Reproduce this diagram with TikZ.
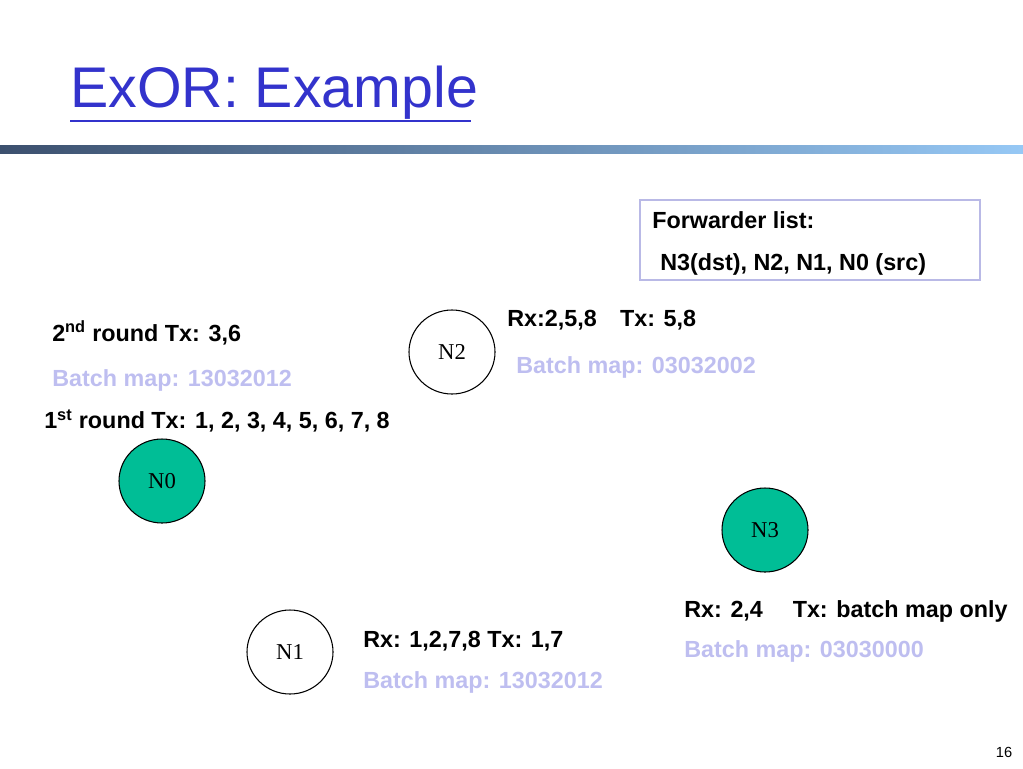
\documentclass[tikz,border=0pt]{standalone}
\usepackage{fontspec}
\setmainfont{Liberation Serif}
\setsansfont{Liberation Sans}
\definecolor{titleblue}{RGB}{51,51,204}
\definecolor{mapblue}{RGB}{190,190,240}
\definecolor{nodegreen}{RGB}{0,190,150}
\definecolor{boxline}{RGB}{185,185,230}
\definecolor{bardark}{RGB}{60,80,110}
\definecolor{barlight}{RGB}{150,200,245}

\tikzset{
  node circ/.style={draw,ellipse,thick,minimum width=86pt*0.75,minimum height=84pt*0.75,inner sep=0pt,font=\fontsize{17}{20}\selectfont},
  info/.style={anchor=west,inner sep=0pt,font=\sffamily\bfseries\fontsize{17.5}{20}\selectfont},
  map/.style={info,text=mapblue}
}
\usetikzlibrary{shapes.geometric}

\begin{document}
\begin{tikzpicture}[x=0.75pt,y=-0.75pt]
	\useasboundingbox (0,0) rectangle (1023,768);

	% title and bar
	\node[anchor=west,inner sep=0pt,text=titleblue,font=\sffamily\fontsize{43}{46}\selectfont] (title) at (70,93) {ExOR: Example};
	\draw[titleblue,line width=2.2pt] (70,121) -- (471,121);
	\shade[left color=bardark,right color=barlight] (0,145) rectangle (1023,153);

	% forwarder list
	\draw[boxline,thick] (640,200) rectangle (980,280);
	\node[info] (fwd) at (652,220) {Forwarder list:};
	\node[info] (fwdlist) at (660,264) {N3(dst), N2, N1, N0 (src)};

	% nodes
	\node[node circ] (N2) at (452,352) {N2};
	\node[node circ,fill=nodegreen] (N0) at (162,481) {N0};
	\node[node circ,fill=nodegreen] (N3) at (765,530) {N3};
	\node[node circ] (N1) at (290,652) {N1};

	% N0 labels
	\node[info] (n0second) at (52,333) {2\textsuperscript{nd} round Tx: 3,6};
	\node[map] (n0map) at (52,380) {Batch map: 13032012};
	\node[info] (n0first) at (44,421) {1\textsuperscript{st} round Tx: 1, 2, 3, 4, 5, 6, 7, 8};

	% N2 labels
	\node[info] (n2rx) at (507,320) {Rx:2,5,8\quad Tx: 5,8};
	\node[map] (n2map) at (516,367) {Batch map: 03032002};

	% N3 labels
	\node[info] (n3rx) at (684,611) {Rx: 2,4\quad\ Tx: batch map only};
	\node[map] (n3map) at (684,651) {Batch map: 03030000};

	% N1 labels
	\node[info] (n1rx) at (363,641) {Rx: 1,2,7,8 Tx: 1,7};
	\node[map] (n1map) at (363,682) {Batch map: 13032012};

	\node[font=\sffamily\fontsize{11}{12}\selectfont] (page) at (1004,752) {16};
\end{tikzpicture}
\end{document}
